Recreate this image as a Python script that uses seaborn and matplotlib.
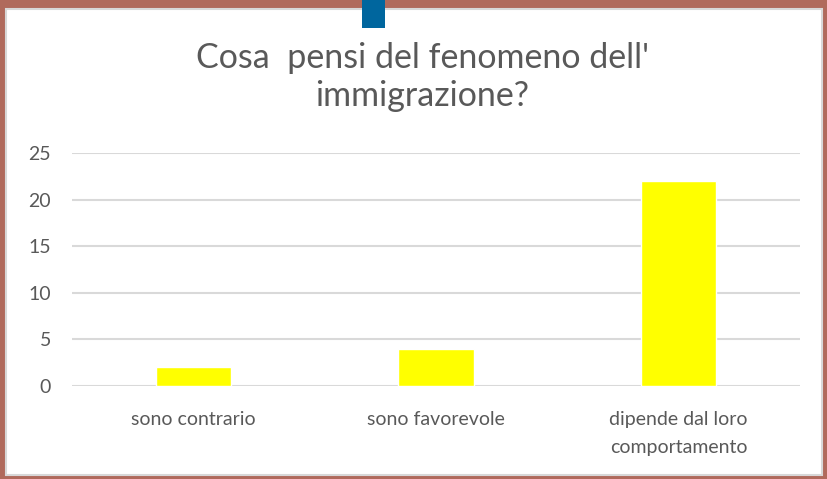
import matplotlib
matplotlib.use("Agg")
import matplotlib.pyplot as plt
import seaborn as sns
import pandas as pd
from matplotlib.patches import Rectangle

categories = ["sono contrario", "sono favorevole", "dipende dal loro\ncomportamento"]
values = [2, 4, 22]
yticks = [0, 5, 10, 15, 20, 25]
title = "Cosa  pensi del fenomeno dell'\nimmigrazione?"

sns.set_theme(style="white")
plt.rcParams['font.family'] = ['Lato', 'DejaVu Sans']

W, H = 828, 479
fig = plt.figure(figsize=(W / 100, H / 100), dpi=100, facecolor="#b06a5c")
# white chart panel
fig.patches.append(Rectangle((6 / W, 1 - 475 / H), 816 / W, 466 / H,
                             transform=fig.transFigure, facecolor="white",
                             edgecolor="#d8d8d8", linewidth=1.5, zorder=-3))
# blue tab at top
fig.patches.append(Rectangle((362 / W, 1 - 28 / H), 23 / W, 28 / H,
                             transform=fig.transFigure, facecolor="#00669e",
                             edgecolor="none", zorder=-2))

ax = fig.add_axes([72 / W, 1 - 386 / H, 728 / W, (386 - 153) / H])
ax.set_zorder(1)
ax.patch.set_alpha(0)
df = pd.DataFrame({"cat": categories, "val": values})
sns.barplot(data=df, x="cat", y="val", color="#ffff00", saturation=1,
            width=0.31, ax=ax, zorder=3)
ax.set_xlim(-0.5, 2.5)
ax.set_ylim(0, 25)
ax.set_yticks(yticks)
ax.set_yticklabels([str(t) for t in yticks])
ax.yaxis.grid(True, color="#d9d9d9", linewidth=1.5, zorder=0)
ax.set_axisbelow(True)
for s in ax.spines.values():
    s.set_visible(False)
ax.set_xlabel("")
ax.set_ylabel("")
ax.tick_params(axis="y", length=0, pad=15, labelsize=14, labelcolor="#595959")
ax.tick_params(axis="x", length=0, pad=18, labelsize=14, labelcolor="#595959")
for lbl in ax.get_xticklabels():
    lbl.set_linespacing(1.8)

fig.text(422 / W, 1 - 77 / H, title, ha="center", va="center",
         fontsize=24.5, color="#595959", linespacing=1.25)

fig.savefig("out.png", dpi=100, facecolor=fig.get_facecolor())
